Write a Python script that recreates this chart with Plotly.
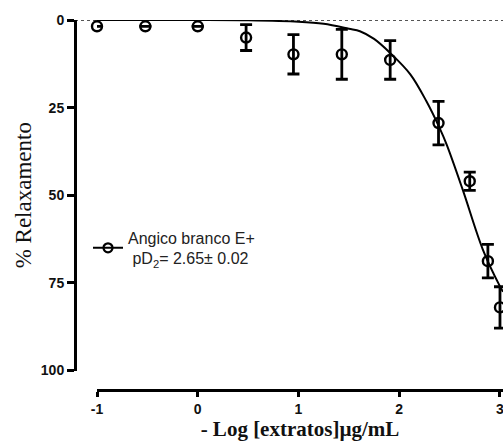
import plotly.graph_objects as go

# Data
log_conc = [-1.0, -0.52, 0.0, 0.48, 0.95, 1.43, 1.91, 2.39, 2.70, 2.88, 3.0]
relax_mean = [1.8, 1.8, 1.8, 5.0, 9.8, 9.8, 11.4, 29.4, 46.0, 68.8, 82.0]
relax_err = [None, None, None, 3.7, 5.6, 7.1, 5.5, 6.2, 2.6, 4.8, 5.9]

curve_x = [-1.0, 0.0, 0.5, 1.0, 1.25, 1.5, 1.61, 1.75, 1.91, 2.11, 2.27, 2.40, 2.47, 2.63, 2.83, 3.0, 3.03]
curve_y = [0.0, 0.0, 0.1, 0.5, 1.1, 2.5, 3.2, 5.4, 9.4, 15.5, 23.2, 30.8, 35.5, 48.4, 65.5, 76.0, 77.5]

y_ticks = [0, 25, 50, 75, 100]
x_ticks = [-1, 0, 1, 2, 3]

series_name = "Angico branco E+<br>&nbsp;pD<sub>2</sub>= 2.65± 0.02"

W, H = 503, 441
ml, mr, mt, mb = 75, 0, 20, 51
ph = H - mt - mb
pw = W - ml - mr

fig = go.Figure()

# zero reference line (dotted)
fig.add_shape(type="line", xref="paper", yref="y", x0=0, x1=1, y0=0, y1=0,
              line=dict(color="#555555", width=2, dash="dot"), layer="below")

# fitted curve
fig.add_trace(go.Scatter(
    x=curve_x, y=curve_y, mode="lines", line=dict(color="black", width=2, shape="spline"),
    showlegend=False, hoverinfo="skip"))

# data points with error bars
fig.add_trace(go.Scatter(
    x=log_conc, y=relax_mean, mode="markers", name=series_name,
    marker=dict(symbol="circle-open", size=10, color="black", line=dict(width=2.4, color="black")),
    error_y=dict(type="data", array=relax_err, visible=True, color="black", thickness=2.8, width=6),
    cliponaxis=False, showlegend=False))

# legend-only entry (line + marker symbol)
fig.add_trace(go.Scatter(
    x=[None], y=[None], mode="lines+markers", name=series_name,
    line=dict(color="black", width=2),
    marker=dict(symbol="circle-open", size=9, color="black", line=dict(width=2.2, color="black")),
    showlegend=True))

x_start_px = 97
fig.update_layout(
    width=W, height=H,
    margin=dict(l=ml, r=mr, t=mt, b=mb, pad=0),
    paper_bgcolor="white", plot_bgcolor="white",
    showlegend=True,
    legend=dict(x=(88 - ml) / pw, y=(H - mb - 248) / ph, xanchor="left", yanchor="middle",
                bgcolor="rgba(0,0,0,0)", font=dict(family="Liberation Sans, Arial", size=16, color="#222222"),
                itemwidth=30, tracegroupgap=0),
    xaxis=dict(
        domain=[(x_start_px - ml) / pw, 1], range=[-1, 3.03],
        anchor="free", position=0,
        showgrid=False, zeroline=False, showline=True, linecolor="black", linewidth=3,
        ticks="outside", ticklen=5, tickwidth=3, tickcolor="black",
        tickvals=x_ticks, ticktext=[str(v) for v in x_ticks],
        ticklabeloverflow="allow",
        tickfont=dict(family="Liberation Sans, Arial", size=14, color="#111111", weight="bold"),
        title=dict(text="- Log [extratos]µg/mL", standoff=11,
                   font=dict(family="Liberation Serif, Times New Roman", size=21, color="#111111", weight="bold")),
    ),
    yaxis=dict(
        domain=[(H - mb - 370.5) / ph, 1], range=[100, 0],
        anchor="free", position=0,
        showgrid=False, zeroline=False, showline=True, linecolor="black", linewidth=3,
        ticks="outside", ticklen=7, tickwidth=3, tickcolor="black",
        tickvals=y_ticks, ticktext=[str(v) for v in y_ticks],
        ticklabeloverflow="allow",
        tickfont=dict(family="Liberation Sans, Arial", size=14, color="#111111", weight="bold"),
        title=dict(text="% Relaxamento", standoff=1,
                   font=dict(family="Liberation Serif, Times New Roman", size=23, color="#111111")),
    ),
)

fig.write_html("out.html")
